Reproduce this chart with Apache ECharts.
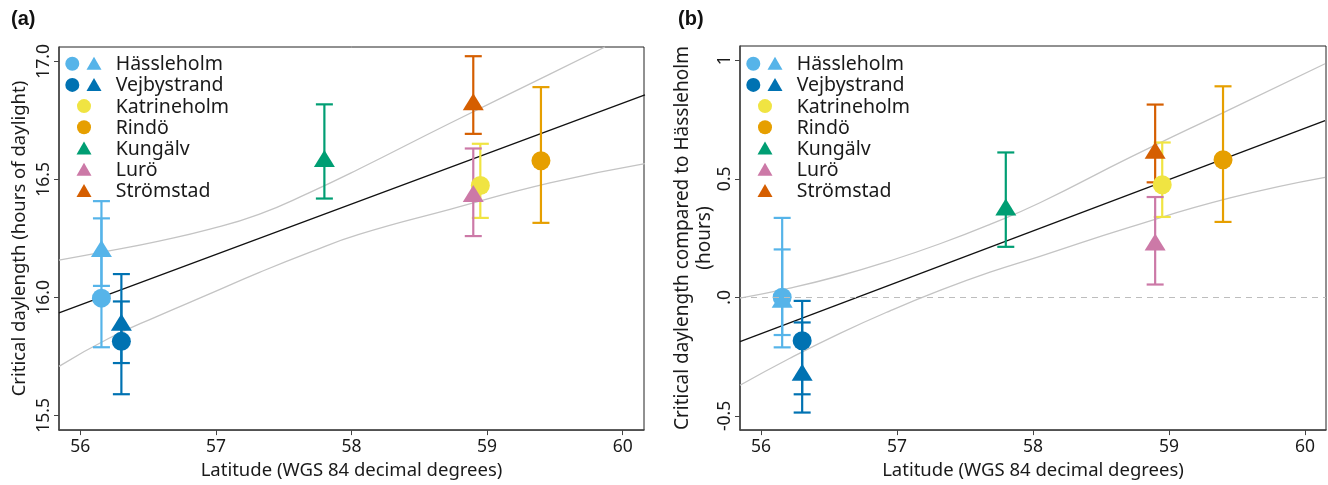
<!DOCTYPE html>
<html>
<head>
<meta charset="utf-8">
<script src="https://cdn.jsdelivr.net/npm/echarts@6.0.0/dist/echarts.min.js"></script>
<style>
  html, body { margin: 0; background: #fff; }
  #chart { width: 1328px; height: 485px; }
</style>
</head>
<body>
<div id="chart"></div>
<script>
// sites and where they are
const sites = ['Hässleholm', 'Vejbystrand', 'Katrineholm', 'Rindö', 'Kungälv', 'Lurö', 'Strömstad']
const latitude = [56.156, 56.303, 58.95, 59.397, 57.80, 58.898, 58.898]
const siteColors = ['#56B4E9', '#0072B2', '#F0E442', '#E69F00', '#009E73', '#CC79A7', '#D55E00']

// (a) critical daylength, hours of daylight
const circleA = [15.997, 15.814, 16.474, 16.579, null, null, null]
const circleALow = [15.789, 15.590, 16.337, 16.316, null, null, null]
const circleAHigh = [16.335, 15.983, 16.651, 16.891, null, null, null]
const triangleA = [16.207, 15.895, null, null, 16.589, 16.440, 16.829]
const triangleALow = [16.049, 15.722, null, null, 16.419, 16.260, 16.693]
const triangleAHigh = [16.408, 16.099, null, null, 16.818, 16.631, 17.022]

// (b) compared to Hässleholm, hours
const circleB = [0, -0.183, 0.475, 0.580, null, null, null]
const circleBLow = [-0.211, -0.409, 0.339, 0.318, null, null, null]
const circleBHigh = [0.335, -0.015, 0.653, 0.890, null, null, null]
const triangleB = [-0.008, -0.316, null, null, 0.381, 0.233, 0.620]
const triangleBLow = [-0.159, -0.486, null, null, 0.213, 0.054, 0.485]
const triangleBHigh = [0.202, -0.106, null, null, 0.611, 0.423, 0.813]

// regression lines and confidence bands
const fitLatA = [55.843, 60.164]
const fitA = [15.935, 16.858]
const bandLatA = [55.843, 56.212, 56.580, 56.949, 57.317, 57.686, 58.055, 58.726, 59.463, 59.869]
const bandUpperA = [16.158, 16.197, 16.239, 16.288, 16.352, 16.443, 16.544, 16.738, 16.946, 17.061]
const bandLatLowA = [55.843, 56.212, 56.580, 56.949, 57.317, 57.686, 58.055, 58.726, 59.463, 60.164]
const bandLowerA = [15.708, 15.827, 15.923, 16.014, 16.105, 16.190, 16.267, 16.373, 16.485, 16.567]

const fitLatB = [55.846, 60.147]
const fitB = [-0.187, 0.745]
const bandLatB = [55.846, 56.213, 56.581, 56.949, 57.316, 57.684, 58.051, 58.713, 59.449, 60.147]
const bandUpperB = [-0.003, 0.039, 0.091, 0.154, 0.226, 0.308, 0.399, 0.590, 0.793, 0.985]
const bandLowerB = [-0.371, -0.257, -0.152, -0.057, 0.029, 0.106, 0.173, 0.296, 0.419, 0.506]

// ticks
const xTicks = [56, 57, 58, 59, 60]
const yTicksA = [15.5, 16.0, 16.5, 17.0]
const yTickLabelsA = ['15.5', '16.0', '16.5', '17.0']
const yTicksB = [-0.5, 0, 0.5, 1]
const yTickLabelsB = ['-0.5', '.0', '0.5', '1']

const font = '"Noto Sans", sans-serif'
const textColor = '#1a1a1a'
const axisColor = '#444'

var chartDom = document.getElementById('chart')
var myChart = echarts.init(chartDom)

const grids = [
  { left: 59, top: 47, width: 585, height: 385 },
  { left: 740, top: 46, width: 586, height: 386 }
]

function pairs(xs, ys) {
  return xs.map((x, i) => [x, ys[i]])
}

function xAxisFor(gridIndex) {
  return {
    type: 'value',
    gridIndex: gridIndex,
    min: gridIndex === 0 ? 55.843 : 55.846,
    max: gridIndex === 0 ? 60.157 : 60.154,
    name: 'Latitude (WGS 84 decimal degrees)',
    nameLocation: 'middle',
    nameGap: 28,
    nameTextStyle: { fontFamily: font, fontSize: 18.5, color: textColor },
    axisLine: { show: true, onZero: false, lineStyle: { color: axisColor, width: 1.5 } },
    axisTick: { show: true, inside: false, length: 5, customValues: xTicks, lineStyle: { color: axisColor } },
    axisLabel: {
      customValues: xTicks,
      formatter: (v) => String(v),
      margin: 8,
      fontFamily: font,
      fontSize: 17.5,
      color: textColor
    },
    splitLine: { show: false }
  }
}

function yAxisFor(gridIndex, min, max, ticks, labels, name, nameGap, nameSize) {
  return {
    type: 'value',
    gridIndex: gridIndex,
    min: min,
    max: max,
    name: name,
    nameLocation: 'middle',
    nameGap: nameGap,
    nameRotate: 90,
    nameTextStyle: { fontFamily: font, fontSize: nameSize, color: textColor, lineHeight: 22 },
    axisLine: { show: true, onZero: false, lineStyle: { color: axisColor, width: 1.5 } },
    axisTick: { show: true, inside: false, length: 5, customValues: ticks, lineStyle: { color: axisColor } },
    axisLabel: {
      customValues: ticks,
      rotate: 90,
      margin: 6,
      formatter: (v) => {
        const k = ticks.findIndex((t) => Math.abs(t - v) < 1e-6)
        return k >= 0 ? labels[k] : ''
      },
      fontFamily: font,
      fontSize: 17.5,
      color: textColor
    },
    splitLine: { show: false }
  }
}

function lineSeries(idx, data, color, width, extra) {
  return Object.assign({
    type: 'line',
    xAxisIndex: idx,
    yAxisIndex: idx,
    data: data,
    showSymbol: false,
    symbol: 'none',
    silent: true,
    smooth: 0.5,
    clip: true,
    lineStyle: { color: color, width: width },
    z: 2
  }, extra || {})
}

function errorBars(idx, lows, highs) {
  const data = []
  sites.forEach((s, i) => {
    if (lows[i] != null) data.push([latitude[i], lows[i], highs[i], i])
  })
  return {
    type: 'custom',
    xAxisIndex: idx,
    yAxisIndex: idx,
    data: data,
    silent: true,
    z: 3,
    encode: { x: 0, y: [1, 2] },
    renderItem: (params, api) => {
      const lo = api.coord([api.value(0), api.value(1)])
      const hi = api.coord([api.value(0), api.value(2)])
      const half = 8.5
      const style = { stroke: siteColors[api.value(3)], lineWidth: 2.2 }
      return {
        type: 'group',
        children: [
          { type: 'line', shape: { x1: lo[0], y1: lo[1], x2: hi[0], y2: hi[1] }, style: style },
          { type: 'line', shape: { x1: lo[0] - half, y1: lo[1], x2: lo[0] + half, y2: lo[1] }, style: style },
          { type: 'line', shape: { x1: hi[0] - half, y1: hi[1], x2: hi[0] + half, y2: hi[1] }, style: style }
        ]
      }
    }
  }
}

function markers(idx, values, symbol, size) {
  const data = []
  sites.forEach((s, i) => {
    if (values[i] != null) {
      data.push({ name: s, value: [latitude[i], values[i]], itemStyle: { color: siteColors[i], opacity: 1 } })
    }
  })
  return {
    type: 'scatter',
    xAxisIndex: idx,
    yAxisIndex: idx,
    symbol: symbol,
    symbolSize: size,
    data: data,
    silent: true,
    z: 4
  }
}

// legend drawn by hand: some rows carry both a circle and a triangle
function legendGraphic(grid, circles, triangles) {
  const out = []
  const x0 = grid.left
  sites.forEach((s, i) => {
    const y = 63.7 + i * 21.2
    const hasC = circles[i] != null
    const hasT = triangles[i] != null
    const cx = hasC && hasT ? x0 + 13.3 : x0 + 25
    const tx = hasC && hasT ? x0 + 35 : x0 + 25
    if (hasC) {
      out.push({ type: 'circle', shape: { cx: cx, cy: y, r: 7 }, style: { fill: siteColors[i] }, z: 10 })
    }
    if (hasT) {
      out.push({
        type: 'polygon',
        shape: { points: [[tx, y - 7], [tx + 7.5, y + 6], [tx - 7.5, y + 6]] },
        style: { fill: siteColors[i] },
        z: 10
      })
    }
    out.push({
      type: 'text',
      style: {
        text: s,
        x: x0 + 56.7,
        y: y + 1,
        verticalAlign: 'middle',
        fontFamily: 'Noto Sans',
        fontSize: 19.5,
        fill: textColor
      },
      z: 10
    })
  })
  return out
}

const panelLabel = {
  fontFamily: 'Liberation Sans',
  fontWeight: 'bold',
  fontSize: 20,
  fill: '#111'
}

const option = {
  animation: false,
  backgroundColor: '#fff',
  grid: grids.map((g) => Object.assign({ show: true, borderColor: '#222', borderWidth: 1, backgroundColor: 'transparent' }, g)),
  xAxis: [xAxisFor(0), xAxisFor(1)],
  yAxis: [
    yAxisFor(0, 15.438, 17.061, yTicksA, yTickLabelsA, 'Critical daylength (hours of daylight)', 28, 18.5),
    yAxisFor(1, -0.560, 1.060, yTicksB, yTickLabelsB, 'Critical daylength compared to Hässleholm\n(hours)', 8, 19)
  ],
  graphic: [
    { type: 'text', left: 11, top: 9, style: Object.assign({ text: '(a)' }, panelLabel) },
    { type: 'text', left: 678, top: 9, style: Object.assign({ text: '(b)' }, panelLabel) }
  ]
    .concat(legendGraphic(grids[0], circleA, triangleA))
    .concat(legendGraphic(grids[1], circleB, triangleB)),
  series: [
    // panel a
    lineSeries(0, pairs(bandLatA, bandUpperA), '#c4c4c4', 1.3),
    lineSeries(0, pairs(bandLatLowA, bandLowerA), '#c4c4c4', 1.3),
    lineSeries(0, pairs(fitLatA, fitA), '#111', 1.3, { smooth: false }),
    errorBars(0, circleALow, circleAHigh),
    markers(0, circleA, 'circle', 19),
    errorBars(0, triangleALow, triangleAHigh),
    markers(0, triangleA, 'triangle', [21, 17]),
    // panel b
    lineSeries(1, pairs(bandLatB, bandUpperB), '#c4c4c4', 1.3),
    lineSeries(1, pairs(bandLatB, bandLowerB), '#c4c4c4', 1.3),
    lineSeries(1, pairs(fitLatB, fitB), '#111', 1.3, {
      smooth: false,
      markLine: {
        silent: true,
        symbol: 'none',
        label: { show: false },
        lineStyle: { color: '#bdbdbd', type: [6, 5], width: 1.2 },
        data: [{ yAxis: 0 }]
      }
    }),
    errorBars(1, circleBLow, circleBHigh),
    markers(1, circleB, 'circle', 19),
    errorBars(1, triangleBLow, triangleBHigh),
    markers(1, triangleB, 'triangle', [21, 17])
  ]
}

option && myChart.setOption(option)
</script>
</body>
</html>
